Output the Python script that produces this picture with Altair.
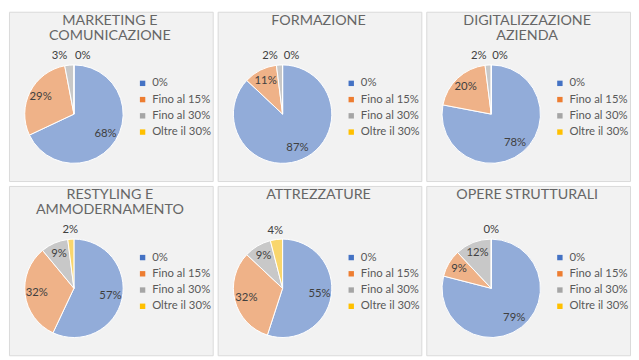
import altair as alt
import pandas as pd

titles = [
    "MARKETING E\nCOMUNICAZIONE",
    "FORMAZIONE",
    "DIGITALIZZAZIONE\nAZIENDA",
    "RESTYLING E\nAMMODERNAMENTO",
    "ATTREZZATURE",
    "OPERE STRUTTURALI",
]
categories = ["0%", "Fino al 15%", "Fino al 30%", "Oltre il 30%"]
colors = ["#4472C4", "#ED7D31", "#A5A5A5", "#FFC000"]

v_marketing = [68, 29, 3, 0]
v_formazione = [87, 11, 2, 0]
v_digitalizzazione = [78, 20, 2, 0]
v_restyling = [57, 32, 9, 2]
v_attrezzature = [55, 32, 9, 4]
v_opere = [79, 9, 12, 0]
all_values = [v_marketing, v_formazione, v_digitalizzazione,
              v_restyling, v_attrezzature, v_opere]

W, H = 207, 172
CX, CY, R = 66, 104, 50
FONT = "Lato"


def panel(title, vals):
    has_zero = any(v == 0 for v in vals)
    has_small = any(0 < v < 5 for v in vals)
    crowded = has_zero and has_small
    df = pd.DataFrame({
        "cat": categories,
        "idx": list(range(len(categories))),
        "value": vals,
        "label": [f"{v}%" for v in vals],
    })
    df["kind"] = [
        "in" if v >= 5 else
        ("small_c" if (v > 0 and crowded) else
         ("small" if v > 0 else ("zero_c" if crowded else "zero")))
        for v in vals
    ]
    base = alt.Chart(df)
    arc = base.mark_arc(
        x=CX, y=CY, outerRadius=R, stroke="white", strokeWidth=1,
        fillOpacity=0.55,
    ).encode(
        theta=alt.Theta("value:Q", stack=True),
        order=alt.Order("idx:Q"),
        color=alt.Color(
            "cat:N",
            sort=categories,
            scale=alt.Scale(domain=categories, range=colors),
            legend=alt.Legend(
                title=None, orient="none", legendX=130, legendY=67,
                symbolType="square", symbolSize=30, symbolOpacity=1,
                labelFont=FONT, labelFontSize=11.5, labelColor="#595959",
                rowPadding=3.5, symbolStrokeWidth=0, labelOffset=4,
            ),
        ),
    )

    lbl_base = base.transform_window(
        cum="sum(value)", sort=[alt.SortField("idx")], frame=[None, 0]
    ).transform_calculate(
        mid="datum.cum - datum.value / 2"
    )

    def labels(kind, radius, shift):
        return lbl_base.transform_filter(
            alt.datum.kind == kind
        ).mark_text(
            x=CX + shift, y=CY, radius=radius, font=FONT, fontSize=11.5,
            color="#404040",
        ).encode(
            theta=alt.Theta("mid:Q", stack=None),
            text="label:N",
        )

    layers = [
        arc,
        labels("in", 38, 0),
        labels("small", 59, 0),
        labels("small_c", 59, -9),
        labels("zero", 59, 0),
        labels("zero_c", 59, 9),
    ]
    ttl = alt.Chart(pd.DataFrame({"t": [title]})).mark_text(
        font=FONT, fontSize=14.5, color="#666666", lineBreak="\n",
        lineHeight=16, baseline="top", align="center",
    ).encode(x=alt.value(W / 2 - 1), y=alt.value(2), text="t:N")
    return alt.layer(*layers, ttl).properties(width=W, height=H)


panels = [panel(t, v) for t, v in zip(titles, all_values)]
row1 = alt.hconcat(*panels[:3], spacing=3).resolve_scale(color="independent", theta="independent")
row2 = alt.hconcat(*panels[3:], spacing=3).resolve_scale(color="independent", theta="independent")
chart = alt.vconcat(row1, row2, spacing=3).resolve_scale(
    color="independent", theta="independent"
).properties(
    padding=0, background="white"
).configure_view(
    fill="#F2F2F2", stroke="#D9D9D9", strokeWidth=1
)

chart.save("out.html", embed_options={"renderer": "svg", "actions": False})
